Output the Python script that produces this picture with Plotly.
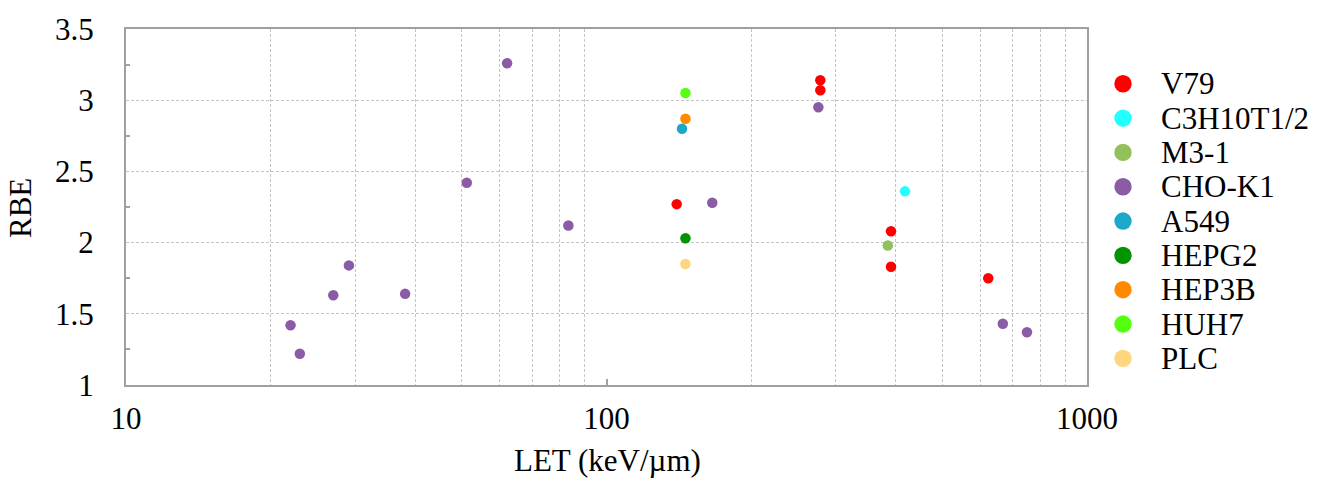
import plotly.graph_objects as go

# Cell lines, their marker colours and (LET, RBE) measurements
cell_lines = ["V79", "C3H10T1/2", "M3-1", "CHO-K1", "A549", "HEPG2", "HEP3B", "HUH7", "PLC"]
colors = ["#FF0000", "#22FFFF", "#92C05A", "#8B5BA6", "#1CA9C9", "#009400", "#FF8A00", "#55FF10", "#FFD580"]

let_v79 = [140, 278.6, 278.6, 391, 391, 623]
rbe_v79 = [2.27, 3.14, 3.07, 2.08, 1.83, 1.75]

let_c3h = [418]
rbe_c3h = [2.36]

let_m31 = [385]
rbe_m31 = [1.98]

let_cho = [22.0, 23.0, 27.0, 29.1, 38.1, 51.2, 62.1, 83.3, 166, 276, 668, 750]
rbe_cho = [1.42, 1.22, 1.63, 1.84, 1.64, 2.42, 3.26, 2.12, 2.28, 2.95, 1.43, 1.37]

let_a549 = [143.6]
rbe_a549 = [2.80]

let_hepg2 = [146]
rbe_hepg2 = [2.03]

let_hep3b = [146]
rbe_hep3b = [2.87]

let_huh7 = [146]
rbe_huh7 = [3.05]

let_plc = [146]
rbe_plc = [1.85]

series = {
    "V79": (let_v79, rbe_v79),
    "C3H10T1/2": (let_c3h, rbe_c3h),
    "M3-1": (let_m31, rbe_m31),
    "CHO-K1": (let_cho, rbe_cho),
    "HEPG2": (let_hepg2, rbe_hepg2),
    "HEP3B": (let_hep3b, rbe_hep3b),
    "HUH7": (let_huh7, rbe_huh7),
    "PLC": (let_plc, rbe_plc),
    "A549": (let_a549, rbe_a549),
}

x_major = [10, 100, 1000]
x_minor = [20, 30, 40, 50, 60, 70, 80, 90, 200, 300, 400, 500, 600, 700, 800, 900]

FONT = "Liberation Serif"
GRID = "#c4c4c4"
FRAME = "#a0a0a0"

fig = go.Figure()
for name, (xs, ys) in series.items():
    c = colors[cell_lines.index(name)]
    fig.add_trace(go.Scatter(
        x=xs, y=ys, mode="markers", name=name, showlegend=False,
        marker=dict(size=10.5, color=c, line=dict(width=0)),
    ))

W, H = 1325, 491
L, R, T, B = 126, 238, 23, 106
pw, ph = W - L - R, H - T - B

# Legend: a column of coloured dots with labels to the right of the plot
leg_dot_x = (1123 - L) / pw
leg_txt_x = (1159 - L) / pw
row0, row_step = 78.7, 34.9
shapes, annotations = [], []
for i, (name, c) in enumerate(zip(cell_lines, colors)):
    py = row0 + i * row_step
    yp = (H - B - py) / ph
    shapes.append(dict(
        type="circle", xref="paper", yref="paper", xsizemode="pixel", ysizemode="pixel",
        xanchor=leg_dot_x, yanchor=yp, x0=-8.7, x1=8.7, y0=-8.7, y1=8.7,
        fillcolor=c, line=dict(width=0),
    ))
    annotations.append(dict(
        text=name, xref="paper", yref="paper", x=leg_txt_x, y=yp,
        xanchor="left", yanchor="middle", showarrow=False,
        font=dict(family=FONT, size=31, color="black"),
    ))

# Axis titles
annotations.append(dict(
    text="LET (keV/\u00b5m)", xref="paper", yref="paper", x=(607 - L) / pw, y=(H - B - 462) / ph,
    xanchor="center", yanchor="middle", showarrow=False,
    font=dict(family=FONT, size=31, color="black"),
))
annotations.append(dict(
    text="RBE", xref="paper", yref="paper", x=(21 - L) / pw, y=(H - B - 205) / ph,
    xanchor="center", yanchor="middle", showarrow=False, textangle=-90,
    font=dict(family=FONT, size=31, color="black"),
))

fig.update_layout(
    width=W, height=H,
    margin=dict(l=L, r=R, t=T, b=B),
    paper_bgcolor="white", plot_bgcolor="white",
    showlegend=False,
    shapes=shapes, annotations=annotations,
)

fig.update_xaxes(
    type="log", range=[1, 3],
    tickmode="array", tickvals=x_major, ticktext=[str(v) for v in x_major],
    ticks="inside", ticklen=6, tickwidth=1.5, tickcolor=FRAME,
    ticklabelstandoff=5,
    showgrid=False, zeroline=False,
    showline=True, mirror=True, linecolor=FRAME, linewidth=2,
    tickfont=dict(family=FONT, size=31, color="black"),
    minor=dict(tickmode="array", tickvals=x_minor, showgrid=True,
               gridcolor=GRID, griddash="3px,2px", gridwidth=1, ticks=""),
)
fig.update_yaxes(
    range=[1, 3.5], tick0=1, dtick=0.5,
    ticks="", ticklabelstandoff=24,
    showgrid=True, gridcolor=GRID, griddash="3px,2px", gridwidth=1,
    zeroline=False,
    showline=True, mirror=True, linecolor=FRAME, linewidth=2,
    tickfont=dict(family=FONT, size=31, color="black"),
    minor=dict(dtick=0.25, ticks="inside", ticklen=4, tickwidth=1.5, tickcolor=FRAME, showgrid=False),
)

fig.write_html("out.html")
